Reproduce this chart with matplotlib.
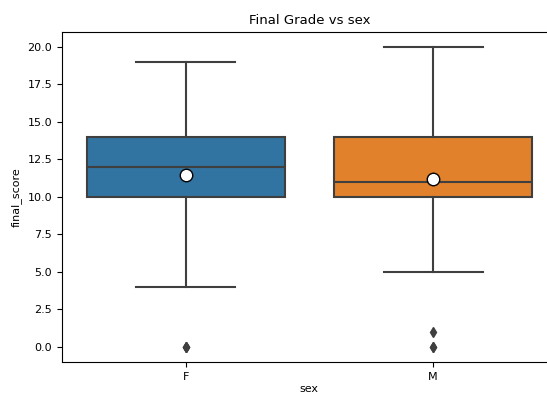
import matplotlib
matplotlib.use("Agg")
import matplotlib.pyplot as plt

# Datos
categorias = ["F", "M"]
q1 = [10.0, 10.0]
medianas = [12.0, 11.0]
q3 = [14.0, 14.0]
bigote_inf = [4.0, 5.0]
bigote_sup = [19.0, 20.0]
medias = [11.45, 11.2]
atipicos = [[0.0, 0.0, 0.0], [0.0, 0.0, 1.0]]
colores = ["#3274a1", "#e1812c"]

fig, ax = plt.subplots(figsize=(5.47, 3.99), dpi=100)

stats = []
for i, cat in enumerate(categorias):
    stats.append({
        "label": cat, "q1": q1[i], "med": medianas[i], "q3": q3[i],
        "whislo": bigote_inf[i], "whishi": bigote_sup[i],
        "mean": medias[i], "fliers": atipicos[i],
    })

gris = "#3f3f3f"
bp = ax.bxp(stats, positions=range(len(categorias)), widths=0.8,
            patch_artist=True, showmeans=True,
            boxprops=dict(edgecolor=gris, linewidth=1.5),
            medianprops=dict(color=gris, linewidth=1.5),
            whiskerprops=dict(color=gris, linewidth=1.5),
            capprops=dict(color=gris, linewidth=1.5),
            flierprops=dict(marker="d", markerfacecolor=gris,
                            markeredgecolor=gris, markersize=5),
            meanprops=dict(marker="o", markerfacecolor="white",
                           markeredgecolor="black", markersize=9))
for caja, c in zip(bp["boxes"], colores):
    caja.set_facecolor(c)

ax.set_xlim(-0.5, 1.5)
ax.set_ylim(-1.0, 21.0)
ticks_y = [0, 2.5, 5, 7.5, 10, 12.5, 15, 17.5, 20]
ax.set_yticks(ticks_y)
ax.set_yticklabels([f"{v:.1f}" for v in ticks_y])
ax.tick_params(labelsize=8)
ax.set_xlabel("sex", fontsize=8, labelpad=2)
ax.set_ylabel("final_score", fontsize=8)
ax.set_title("Final Grade vs sex", fontsize=9.5)

# el gráfico original está recortado por la derecha
fig.subplots_adjust(left=0.113, right=1.018, top=0.92, bottom=0.093)
fig.savefig("out.png")
